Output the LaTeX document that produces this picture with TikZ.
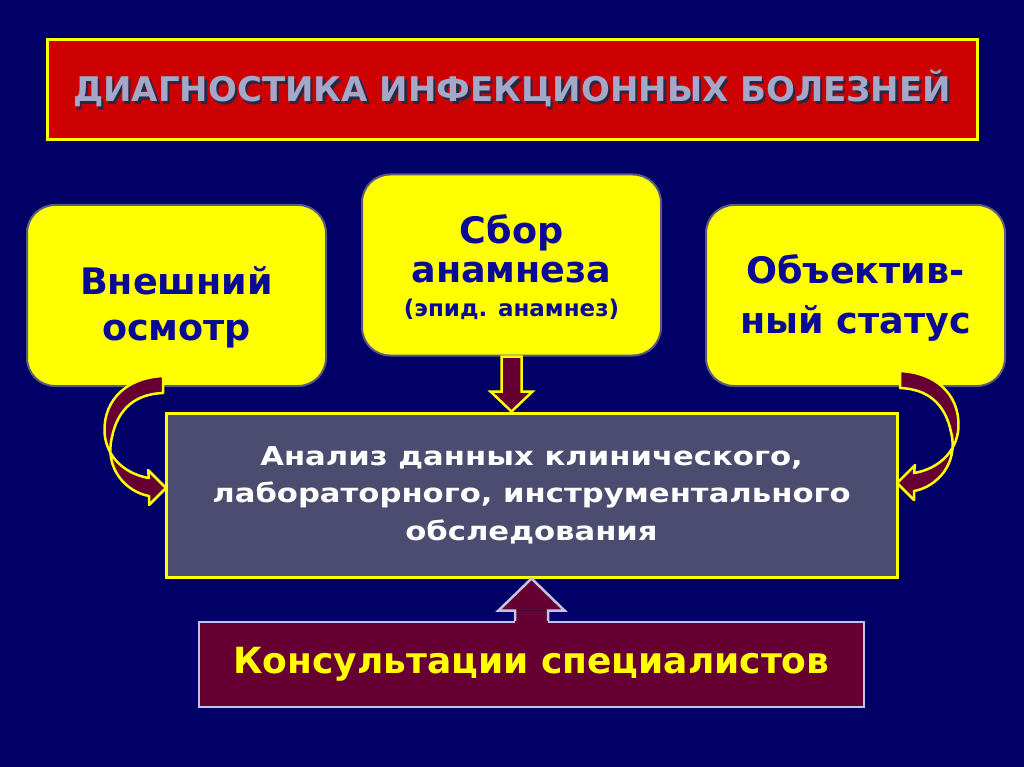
\documentclass[tikz,border=0pt]{standalone}
\usepackage{fontspec}
\setmainfont{DejaVu Sans}
\usetikzlibrary{calc}
\definecolor{bgc}{RGB}{0,0,102}
\definecolor{titlered}{RGB}{204,0,0}
\definecolor{titletext}{RGB}{163,167,200}
\definecolor{titleshadow}{RGB}{40,40,70}
\definecolor{boxyellow}{RGB}{255,255,0}
\definecolor{boxedge}{RGB}{90,90,128}
\definecolor{navytext}{RGB}{10,10,150}
\definecolor{slate}{RGB}{76,76,112}
\definecolor{maroon}{RGB}{102,0,51}
\definecolor{lavender}{RGB}{195,195,225}
\tikzset{
  ybox/.style={draw=boxedge, line width=2pt, fill=boxyellow, rounded corners=28pt,
    minimum width=299pt, minimum height=181pt, inner sep=0pt},
  ytext/.style={align=center, text=navytext, inner sep=0pt,
    font=\bfseries\fontsize{36.5}{46}\selectfont},
  cbox/.style={draw=boxyellow, line width=3pt, fill=slate, minimum width=731pt,
    minimum height=164pt, align=center, text=white, inner sep=0pt,
    font=\bfseries\fontsize{26}{37.5}\selectfont},
  bbox/.style={draw=lavender, line width=2.5pt, fill=maroon, minimum width=665pt,
    minimum height=85pt, text=boxyellow, inner sep=0pt},
  tbox/.style={draw=boxyellow, line width=3pt, fill=titlered, minimum width=930pt,
    minimum height=100pt, inner sep=0pt, text=titletext},
  yarrow/.style={fill=maroon, draw=boxyellow, line width=2.5pt, line join=miter},
  larrow/.style={draw=lavender, line width=2.5pt, line join=miter},
}
\newcommand{\shadowtext}[1]{\rlap{\hspace{2.5pt}\raisebox{-2.5pt}{\textcolor{titleshadow}{#1}}}#1}
\begin{document}
\begin{tikzpicture}[x=1pt,y=-1pt]
\fill[bgc] (0,0) rectangle (1024,767);
\useasboundingbox (0,0) rectangle (1024,767);

% title
\node[tbox, font=\bfseries\fontsize{34}{40}\selectfont] (title) at (512,90)
  {\shadowtext{ДИАГНОСТИКА ИНФЕКЦИОННЫХ БОЛЕЗНЕЙ}};

% yellow boxes
\node[ybox] (left) at (176.5,295.5) {};
\node[ytext] (lefttext) at (176.5,307) {Внешний\\осмотр};
\node[ybox] (mid) at (511.5,265) {};
\node[ytext] (midtext) at (511.5,267) {Сбор\\[-7pt]анамнеза\\[-12pt]{\fontsize{23}{26}\selectfont (эпид. анамнез)}};
\node[ybox] (right) at (855.5,295.5) {};
\node[ytext, font=\bfseries\fontsize{36.5}{50}\selectfont] (righttext) at (855.5,298) {Объектив-\\ный статус};

% central box
\node[cbox] (center) at (531.5,495) {\scalebox{1.18}[1]{\parbox{560pt}{\centering Анализ данных клинического,\\лабораторного, инструментального\\обследования}}};

% bottom box
\node[bbox] (bottom) at (531.5,664.5) {\bfseries\fontsize{36}{42}\selectfont Консультации специалистов};

% down arrow from mid to center
\coordinate (dtop) at (mid.south);
\coordinate (dtip) at (dtop |- center.north);
\draw[yarrow] ($(dtop)+(-10,0)$) -- ($(dtop)+(10,0)$) -- ($(dtip)+(10,-20)$)
  -- ($(dtip)+(21,-20)$) -- (dtip) -- ($(dtip)+(-21,-20)$) -- ($(dtip)+(-10,-20)$) -- cycle;

% up arrow from bottom to center
\coordinate (utip) at (center.south);
\coordinate (ubase) at (utip |- bottom.north);
\fill[maroon] ($(ubase)+(-16.5,3)$) rectangle ($(utip)+(16.5,32)$);
\fill[maroon] ($(utip)+(-33,32)$) -- (utip) -- ($(utip)+(33,32)$) -- cycle;
\draw[larrow] ($(ubase)+(-16.5,0)$) -- ($(utip)+(-16.5,32)$) -- ($(utip)+(-33,32)$)
  -- (utip) -- ($(utip)+(33,32)$) -- ($(utip)+(16.5,32)$) -- ($(ubase)+(16.5,0)$);

% curved arrows
\def\curvedarrow{(163,376) .. controls (122,378) and (101,405) .. (105,437)
  .. controls (109,462) and (130,475) .. (149,478)
  -- (148,470) -- (166,488) -- (149,505) -- (149,496)
  .. controls (126,492) and (104,468) .. (112,437)
  .. controls (118,408) and (136,394) .. (163,393) -- cycle}
\draw[yarrow, line join=round] \curvedarrow;
\begin{scope}[shift={(1063,-5)}, xscale=-1]
\draw[yarrow, line join=round] \curvedarrow;
\end{scope}
\end{tikzpicture}
\end{document}
